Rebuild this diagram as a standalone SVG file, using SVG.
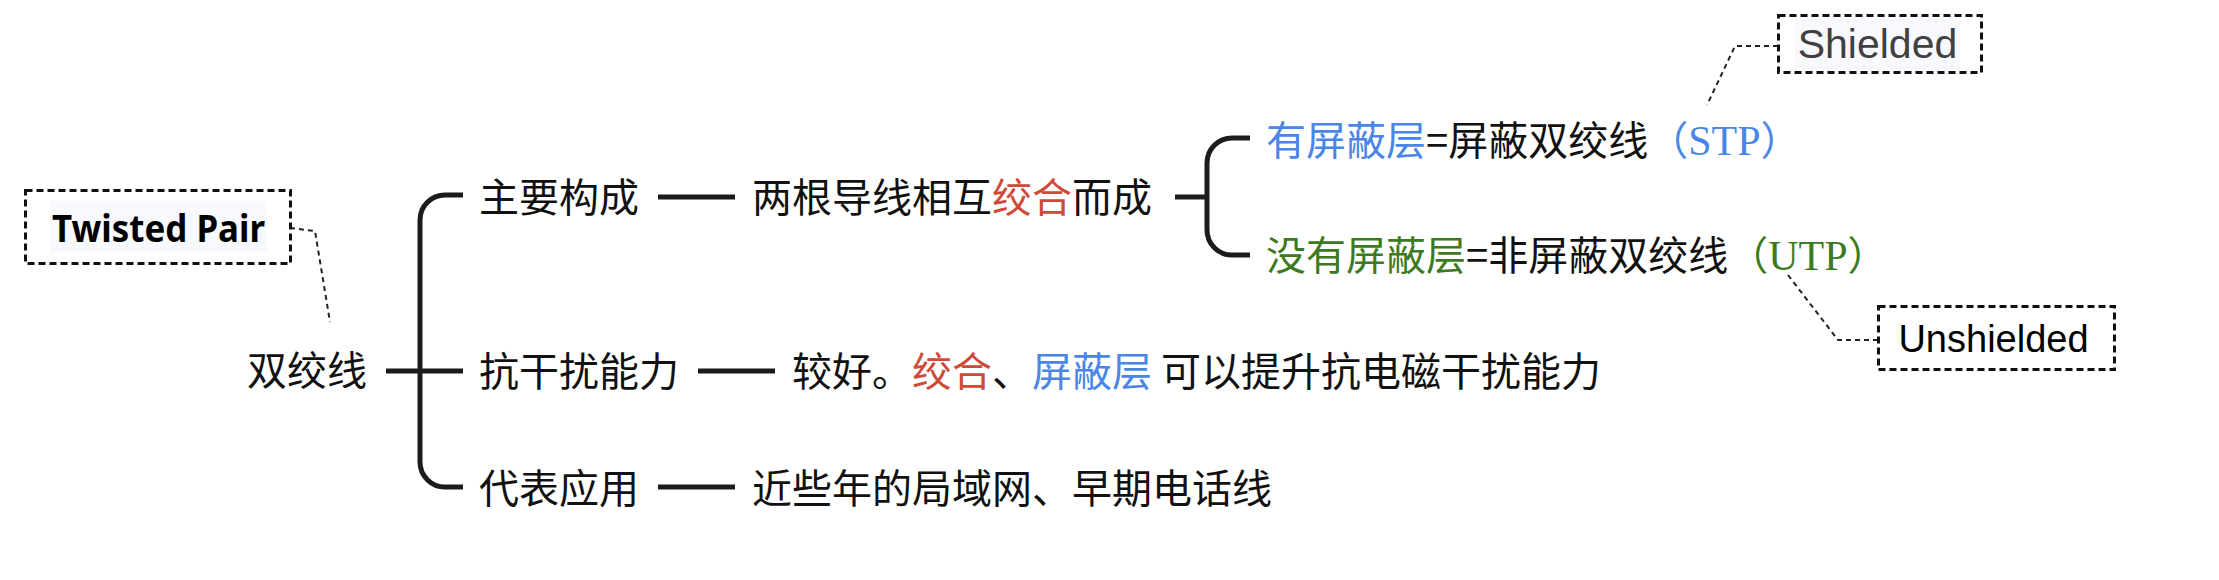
<svg xmlns="http://www.w3.org/2000/svg" width="2219" height="580" viewBox="0 0 2219 580">
<style>
.t{font-family:"Noto Sans CJK SC","Noto Sans",sans-serif;font-size:40px;fill:#111}
.sf{font-family:"Liberation Serif","Noto Serif CJK SC",serif;font-size:42px}
.blue{fill:#4a86e8}
.green{fill:#3b7a20}
.red{fill:#d04a3a}
.ln{fill:none;stroke:#1c1c1c;stroke-width:5}
.br{fill:none;stroke:#1c1c1c;stroke-width:5;stroke-linejoin:round}
.box{fill:none;stroke:#111;stroke-width:3;stroke-dasharray:7 4}
.note{fill:none;stroke:#222;stroke-width:2;stroke-dasharray:5 4}
.bg{fill:#f8f9fd}
</style>
<rect width="2219" height="580" fill="#fff"/>
<g id="connectors">
<path class="ln" d="M386,371 H463"/>
<path class="br" d="M463,195 H445 A25,25 0 0 0 420,220 V462 A25,25 0 0 0 445,487 H463"/>
<path class="ln" d="M658,197 H735"/>
<path class="ln" d="M698,371 H775"/>
<path class="ln" d="M658,487 H735"/>
<path class="ln" d="M1175,197 H1207"/>
<path class="br" d="M1250,138 H1232 A25,25 0 0 0 1207,163 V230 A25,25 0 0 0 1232,255 H1250"/>
<path class="note" d="M290,228 L315,231 L330,322"/>
<path class="note" d="M1778,46 L1735,46 L1707,105"/>
<path class="note" d="M1788,275 L1838,340 L1877,340"/>
</g>
<g id="root">
<text class="t" x="247" y="385">双绞线</text>
</g>
<g id="note-twisted-pair">
<rect class="box" x="25.5" y="190.5" width="265" height="73"/>
<rect class="bg" x="50" y="201" width="217" height="52"/>
<text x="52" y="242" textLength="213" lengthAdjust="spacingAndGlyphs" style="font-family:'Noto Sans','Liberation Sans',sans-serif;font-weight:bold;font-size:38px;fill:#000">Twisted Pair</text>
</g>
<g id="n-main">
<text class="t" x="479" y="212">主要构成</text>
</g>
<g id="n-main-detail">
<text class="t" x="752" y="212">两根导线相互<tspan class="red">绞合</tspan>而成</text>
</g>
<g id="n-stp">
<text class="t" x="1266" y="155"><tspan class="blue">有屏蔽层</tspan>=屏蔽双绞线<tspan class="blue">（</tspan><tspan class="blue sf">STP</tspan><tspan class="blue">）</tspan></text>
</g>
<g id="n-utp">
<text class="t" x="1266" y="270"><tspan class="green">没有屏蔽层</tspan>=非屏蔽双绞线<tspan class="green">（</tspan><tspan class="green sf">UTP</tspan><tspan class="green">）</tspan></text>
</g>
<g id="note-shielded">
<rect class="box" x="1778.5" y="15.5" width="203" height="57"/>
<rect class="bg" x="1795" y="19" width="165" height="50"/>
<text x="1877.5" y="58" text-anchor="middle" style="font-family:'Liberation Sans',Arial,sans-serif;font-size:41px;fill:#404040">Shielded</text>
</g>
<g id="note-unshielded">
<rect class="box" x="1878.5" y="306.5" width="236" height="63"/>
<text x="1993.5" y="352" text-anchor="middle" style="font-family:'Liberation Sans',Arial,sans-serif;font-size:38px;fill:#000">Unshielded</text>
</g>
<g id="n-anti">
<text class="t" x="479" y="386">抗干扰能力</text>
</g>
<g id="n-anti-detail">
<text class="t" x="792" y="386">较好。<tspan class="red">绞合</tspan>、<tspan class="blue">屏蔽层</tspan> 可以提升抗电磁干扰能力</text>
</g>
<g id="n-app">
<text class="t" x="479" y="503">代表应用</text>
</g>
<g id="n-app-detail">
<text class="t" x="752" y="503">近些年的局域网、早期电话线</text>
</g>
</svg>
